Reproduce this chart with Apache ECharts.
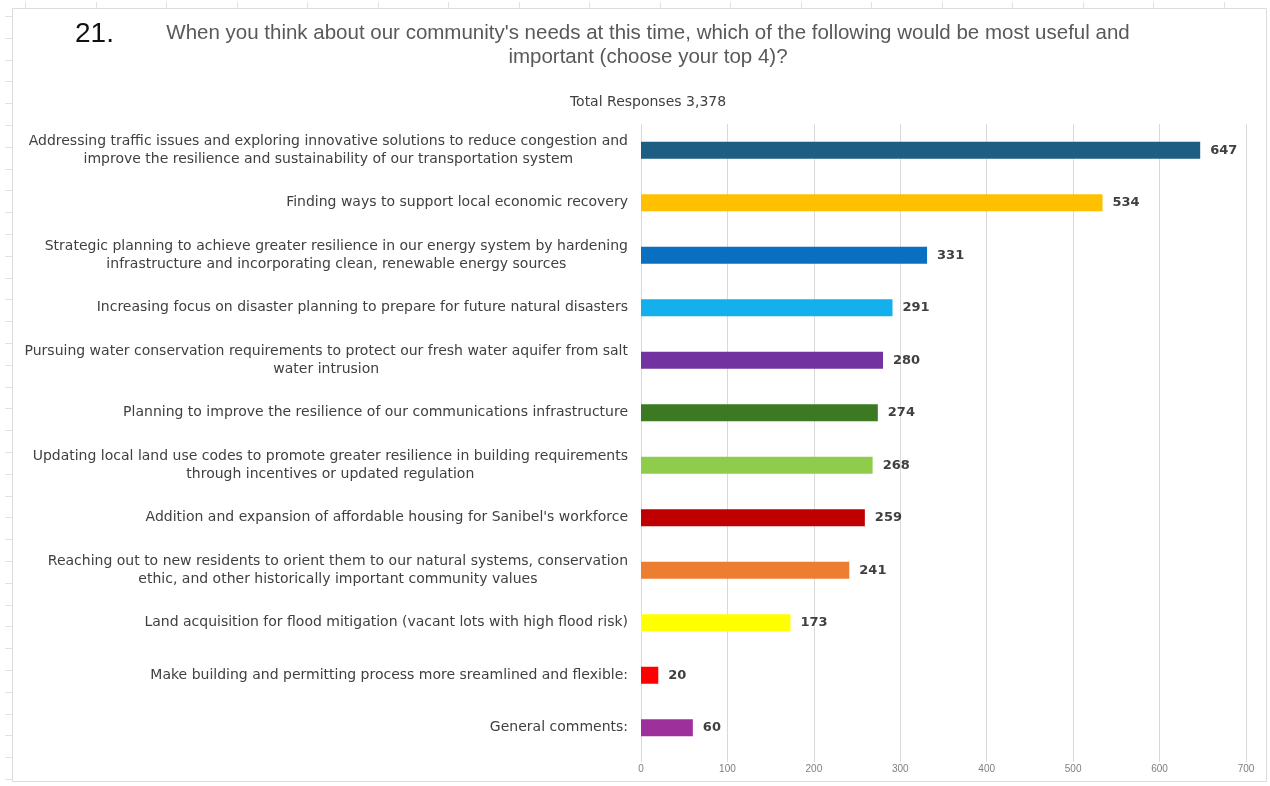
<!DOCTYPE html>
<html>
<head>
<meta charset="utf-8">
<script src="https://cdn.jsdelivr.net/npm/echarts@6/dist/echarts.min.js"></script>
<style>
  html, body { margin: 0; padding: 0; background: #fff; }
  #chart { width: 1270px; height: 786px; }
</style>
</head>
<body>
<div id="chart"></div>
<script>
// Survey question 21: priorities chosen by respondents (top 4 each)
const categories = [
  'Addressing traffic issues and exploring innovative solutions to reduce congestion and\nimprove the resilience and sustainability of our transportation system',
  'Finding ways to support local economic recovery',
  'Strategic planning to achieve greater resilience in our energy system by hardening\ninfrastructure and incorporating clean, renewable energy sources',
  'Increasing focus on disaster planning to prepare for future natural disasters',
  'Pursuing water conservation requirements to protect our fresh water aquifer from salt\nwater intrusion',
  'Planning to improve the resilience of our communications infrastructure',
  'Updating local land use codes to promote greater resilience in building requirements\nthrough incentives or updated regulation',
  "Addition and expansion of affordable housing for Sanibel's workforce",
  'Reaching out to new residents to orient them to our natural systems, conservation\nethic, and other historically important community values',
  'Land acquisition for flood mitigation (vacant lots with high flood risk)',
  'Make building and permitting process more sreamlined and flexible:',
  'General comments:'
];
const responses = [647, 534, 331, 291, 280, 274, 268, 259, 241, 173, 20, 60];
const barColors = [
  '#1D5E82', '#FFC000', '#0A6FC0', '#14B0EE', '#7232A0', '#3B7A22',
  '#90CC4C', '#C00000', '#ED7D31', '#FFFF00', '#FF0000', '#9E309C'
];
const xTicks = [0, 100, 200, 300, 400, 500, 600, 700];

const chart = echarts.init(document.getElementById('chart'), null, { renderer: 'canvas' });

// Spreadsheet frame around the chart: border plus faint row/column tick marks
const frame = [];
frame.push({
  type: 'rect', silent: true,
  shape: { x: 12.5, y: 8.5, width: 1254, height: 773 },
  style: { fill: 'none', stroke: '#dcdcdc', lineWidth: 1 }
});
for (let y = 16; y < 786; y += 21.8) {
  frame.push({ type: 'line', silent: true,
    shape: { x1: 5, y1: Math.round(y) + 0.5, x2: 12, y2: Math.round(y) + 0.5 },
    style: { stroke: '#e2e2e2', lineWidth: 1 } });
}
for (let x = 25; x < 1270; x += 70.5) {
  frame.push({ type: 'line', silent: true,
    shape: { x1: Math.round(x) + 0.5, y1: 2, x2: Math.round(x) + 0.5, y2: 8 },
    style: { stroke: '#e2e2e2', lineWidth: 1 } });
}
frame.push({
  type: 'text', left: 75, top: 20, silent: true,
  style: { text: '21.', font: '28px "Liberation Sans", Arial, sans-serif', fill: '#111' }
});

// Each line of a category label is centred inside the right-aligned block
const centredLines = s => s.split('\n').map(line => '{c|' + line + '}').join('\n');

chart.setOption({
  animation: false,
  backgroundColor: '#ffffff',
  textStyle: { fontFamily: '"Liberation Sans", Arial, sans-serif' },
  title: [
    {
      text: "When you think about our community's needs at this time, which of the following would be most useful and\nimportant (choose your top 4)?",
      left: 643, top: 16, textAlign: 'center',
      textStyle: { fontSize: 20.5, fontWeight: 'normal', color: '#595959', lineHeight: 24 }
    },
    {
      text: 'Total Responses 3,378',
      left: 643, top: 90, textAlign: 'center',
      textStyle: { fontSize: 14, fontWeight: 'normal', color: '#404040',
        fontFamily: '"DejaVu Sans", sans-serif' }
    }
  ],
  graphic: frame,
  grid: { left: 641, right: 24, top: 124, bottom: 32, containLabel: false },
  xAxis: {
    type: 'value', min: 0, max: 700, interval: 100,
    axisLine: { show: false },
    axisTick: { show: true, length: 8, lineStyle: { color: '#d9d9d9' } },
    splitLine: { show: true, lineStyle: { color: '#d9d9d9', width: 1 } },
    axisLabel: {
      margin: 10, fontSize: 10, color: '#7f7f7f',
      formatter: v => (xTicks.includes(v) ? String(v) : '')
    }
  },
  yAxis: {
    type: 'category', data: categories, inverse: true,
    axisLine: { show: false }, axisTick: { show: false },
    axisLabel: {
      margin: 13, align: 'right',
      formatter: centredLines,
      rich: {
        c: {
          align: 'center', fontSize: 14, lineHeight: 18, color: '#404040',
          fontFamily: '"DejaVu Sans", sans-serif'
        }
      }
    }
  },
  series: [{
    type: 'bar',
    data: responses.map((v, i) => ({ value: v, itemStyle: { color: barColors[i] } })),
    barWidth: 17,
    label: {
      show: true, position: 'right', distance: 10,
      fontSize: 13, fontWeight: 'bold', color: '#404040',
      fontFamily: '"DejaVu Sans", sans-serif'
    }
  }]
});
</script>
</body>
</html>
